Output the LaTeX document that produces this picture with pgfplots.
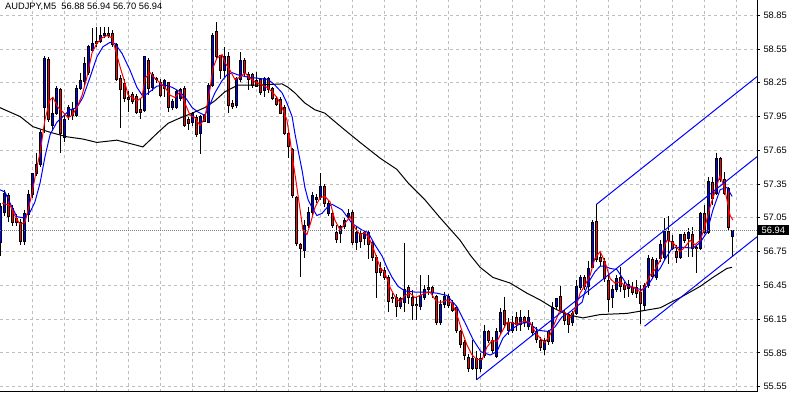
\documentclass[border=0pt]{standalone}
\usepackage{fontspec}
\setmainfont{Liberation Sans}
\usepackage{pgfplots}
\pgfplotsset{compat=1.18}
\usepackage{pgfplotstable}
\definecolor{mtblue}{RGB}{0,0,255}
\definecolor{mtred}{RGB}{255,0,0}
\definecolor{mtgrid}{RGB}{190,190,190}
\newcommand{\lbl}{\fontsize{9.3}{10}\selectfont}

\pgfplotstableread{
k o h l c
0 56.83 57.18 56.71 57.15
1 57.10 57.30 57.07 57.27
2 57.25 57.27 57.01 57.06
3 57.13 57.16 56.98 57.01
4 57.04 57.08 56.98 57.01
5 57.01 57.04 56.81 56.84
6 56.84 57.12 56.81 57.09
7 57.08 57.30 57.01 57.26
8 57.26 57.45 57.23 57.44
9 57.44 57.63 57.42 57.52
10 57.52 57.83 57.50 57.81
11 58.03 58.49 57.80 58.47
12 58.46 58.48 57.90 57.92
13 57.87 58.12 57.83 57.98
14 57.98 58.22 57.96 58.20
15 58.19 58.20 57.63 57.80
16 57.76 57.98 57.72 57.92
17 57.95 58.05 57.92 58.03
18 58.01 58.08 57.92 57.96
19 57.96 58.23 57.95 58.20
20 58.20 58.34 58.19 58.27
21 58.26 58.48 58.23 58.42
22 58.34 58.59 58.32 58.57
23 58.54 58.74 58.52 58.60
24 58.62 58.75 58.57 58.60
25 58.62 58.75 58.60 58.67
26 58.67 58.75 58.65 58.69
27 58.69 58.75 58.65 58.67
28 58.69 58.72 58.57 58.59
29 58.59 58.60 58.27 58.28
30 58.29 58.32 57.85 58.19
31 58.24 58.28 58.08 58.11
32 58.12 58.18 57.99 58.10
33 58.15 58.17 58.06 58.08
34 58.13 58.15 57.97 57.99
35 58.01 58.11 57.93 57.99
36 58.00 58.49 57.99 58.48
37 58.45 58.47 58.14 58.20
38 58.21 58.35 58.18 58.32
39 58.29 58.30 58.25 58.28
40 58.25 58.28 58.12 58.14
41 58.20 58.28 58.12 58.27
42 58.25 58.26 57.99 58.03
43 58.03 58.11 58.01 58.08
44 58.03 58.19 58.02 58.17
45 58.11 58.20 58.09 58.19
46 58.20 58.22 57.86 57.87
47 57.92 57.95 57.83 57.89
48 57.90 57.99 57.87 57.98
49 57.94 57.96 57.77 57.79
50 57.80 57.96 57.62 57.95
51 57.96 57.97 57.90 57.91
52 57.90 58.25 57.89 58.23
53 58.23 58.69 58.21 58.67
54 58.71 58.79 58.47 58.48
55 58.49 58.50 58.28 58.36
56 58.36 58.57 58.29 58.48
57 58.48 58.52 57.98 58.05
58 58.07 58.10 58.02 58.04
59 58.05 58.30 58.03 58.29
60 58.28 58.52 58.26 58.45
61 58.45 58.47 58.31 58.34
62 58.32 58.35 58.19 58.28
63 58.32 58.34 58.20 58.23
64 58.27 58.35 58.21 58.22
65 58.28 58.29 58.14 58.16
66 58.18 58.30 58.12 58.29
67 58.29 58.30 58.16 58.19
68 58.20 58.21 58.10 58.11
69 58.11 58.13 58.04 58.06
70 58.10 58.12 57.97 57.98
71 58.03 58.05 57.79 57.80
72 57.80 57.81 57.58 57.68
73 57.66 57.67 57.23 57.25
74 57.23 57.24 56.80 56.82
75 56.81 56.83 56.52 56.78
76 56.76 57.03 56.69 56.98
77 56.98 57.15 56.96 57.10
78 57.10 57.28 57.06 57.25
79 57.21 57.26 57.18 57.23
80 57.23 57.45 57.21 57.33
81 57.33 57.35 57.15 57.18
82 57.09 57.21 57.07 57.18
83 57.09 57.11 56.96 56.98
84 56.92 56.99 56.83 56.86
85 56.91 56.99 56.83 56.97
86 56.97 57.05 56.95 57.03
87 57.06 57.13 57.04 57.09
88 57.10 57.12 56.81 56.83
89 56.83 56.97 56.76 56.92
90 56.91 56.93 56.78 56.84
91 56.87 56.94 56.81 56.92
92 56.92 56.94 56.68 56.81
93 56.83 56.85 56.67 56.70
94 56.70 56.72 56.34 56.56
95 56.60 56.66 56.53 56.56
96 56.58 56.61 56.50 56.52
97 56.52 56.54 56.21 56.31
98 56.34 56.38 56.29 56.33
99 56.34 56.37 56.17 56.26
100 56.26 56.35 56.24 56.33
101 56.30 56.83 56.21 56.41
102 56.43 56.45 56.28 56.34
103 56.34 56.41 56.14 56.27
104 56.28 56.35 56.14 56.27
105 56.26 56.54 56.23 56.36
106 56.34 56.45 56.32 56.41
107 56.43 56.54 56.36 56.41
108 56.43 56.44 56.34 56.39
109 56.35 56.36 56.10 56.12
110 56.12 56.32 56.10 56.28
111 56.28 56.39 56.25 56.35
112 56.35 56.37 56.25 56.27
113 56.29 56.32 56.21 56.23
114 56.25 56.27 56.03 56.05
115 56.04 56.05 55.89 55.92
116 55.94 55.96 55.79 55.83
117 55.81 55.84 55.68 55.71
118 55.71 55.96 55.70 55.80
119 55.80 55.87 55.61 55.71
120 55.71 55.85 55.68 55.80
121 55.83 56.10 55.80 56.04
122 56.04 56.05 55.94 55.96
123 55.96 55.99 55.85 55.87
124 55.82 56.07 55.80 56.04
125 56.04 56.25 56.01 56.21
126 56.23 56.35 56.07 56.10
127 56.12 56.16 56.01 56.05
128 56.05 56.18 56.03 56.12
129 56.16 56.21 56.04 56.10
130 56.10 56.23 56.04 56.16
131 56.16 56.18 56.08 56.12
132 56.08 56.23 56.05 56.16
133 56.08 56.12 56.00 56.03
134 56.04 56.08 55.94 55.97
135 55.96 55.99 55.87 55.90
136 55.88 55.98 55.83 55.96
137 56.04 56.05 55.92 55.95
138 55.95 56.30 55.93 56.25
139 56.26 56.34 56.24 56.33
140 56.35 56.44 56.21 56.23
141 56.20 56.23 56.10 56.14
142 56.19 56.20 56.03 56.10
143 56.12 56.22 56.09 56.20
144 56.20 56.50 56.19 56.44
145 56.43 56.54 56.41 56.52
146 56.52 56.54 56.41 56.44
147 56.44 56.67 56.36 56.60
148 56.61 57.03 56.60 57.01
149 57.02 57.17 56.66 56.68
150 56.70 56.75 56.62 56.66
151 56.66 56.69 56.48 56.51
152 56.49 56.54 56.21 56.32
153 56.34 56.45 56.25 56.41
154 56.41 56.54 56.39 56.51
155 56.52 56.61 56.39 56.44
156 56.45 56.48 56.34 56.41
157 56.42 56.50 56.35 56.46
158 56.43 56.48 56.36 56.39
159 56.43 56.50 56.34 56.38
160 56.39 56.45 56.11 56.29
161 56.27 56.47 56.23 56.45
162 56.45 56.72 56.43 56.69
163 56.68 56.70 56.51 56.53
164 56.52 56.69 56.50 56.67
165 56.69 56.85 56.66 56.81
166 56.70 57.05 56.67 56.93
167 56.93 57.07 56.64 56.85
168 56.84 56.90 56.76 56.78
169 56.75 56.81 56.65 56.70
170 56.70 56.91 56.68 56.90
171 56.90 56.92 56.83 56.85
172 56.87 56.96 56.70 56.92
173 56.90 56.97 56.70 56.78
174 56.79 56.80 56.56 56.78
175 56.78 57.10 56.76 57.09
176 57.09 57.16 56.91 56.92
177 56.92 57.41 56.91 57.37
178 57.36 57.41 57.16 57.22
179 57.27 57.63 57.25 57.58
180 57.58 57.59 57.37 57.39
181 57.39 57.46 57.25 57.27
182 57.31 57.32 56.94 56.96
183 56.88 56.94 56.70 56.94
}\candles

\pgfplotstableread{
k p
-0.2 58.03
4.9 57.95
8.1 57.86
12.4 57.81
16.6 57.77
20.6 57.75
24.1 57.72
29.1 57.74
32.4 57.71
35.6 57.68
39.4 57.81
41.9 57.89
44.4 57.93
47.9 57.98
51.1 58.03
53.6 58.09
56.1 58.17
59.4 58.23
64.4 58.23
70.4 58.24
71.9 58.21
73.6 58.16
76.1 58.07
78.6 58.01
81.1 57.98
82.4 57.94
86.1 57.83
89.9 57.72
94.9 57.58
99.1 57.48
101.9 57.36
106.1 57.21
109.9 57.05
114.9 56.85
117.4 56.72
119.9 56.61
123.1 56.52
127.4 56.47
131.6 56.38
134.9 56.32
138.1 56.25
141.6 56.19
145.6 56.16
149.9 56.19
156.6 56.20
161.6 56.23
164.9 56.25
169.9 56.34
174.9 56.44
178.1 56.52
181.6 56.60
182.9 56.61
}\maslow

\pgfplotstableread{
k p
-0.2 57.30
1.1 57.28
2.4 57.18
4.1 57.06
5.6 57.05
7.4 57.10
8.6 57.19
9.9 57.36
11.1 57.59
12.4 57.79
14.1 57.90
15.6 57.95
17.4 58.01
19.1 58.03
20.6 58.12
22.4 58.30
24.1 58.48
25.6 58.57
27.4 58.61
28.6 58.60
30.4 58.51
32.4 58.36
34.1 58.21
35.4 58.14
36.6 58.15
39.1 58.22
41.1 58.23
42.9 58.21
44.9 58.17
46.6 58.10
47.9 58.03
49.4 57.99
51.1 57.96
52.4 58.06
53.6 58.16
55.4 58.27
56.6 58.32
57.9 58.34
59.4 58.32
61.9 58.30
64.4 58.29
66.9 58.28
68.6 58.23
70.4 58.16
71.6 58.07
72.9 57.95
73.6 57.80
74.4 57.65
75.4 57.47
76.1 57.32
76.9 57.21
77.9 57.14
79.1 57.07
80.4 57.09
81.6 57.14
82.9 57.17
85.4 57.12
87.9 57.00
90.4 56.94
91.9 56.92
93.6 56.81
95.4 56.71
96.6 56.61
97.9 56.52
99.4 56.44
101.1 56.40
103.6 56.39
106.6 56.39
109.1 56.38
111.6 56.36
114.1 56.26
116.1 56.12
118.1 55.97
120.1 55.86
122.4 55.83
124.1 55.86
125.6 55.98
127.4 56.05
129.9 56.11
131.9 56.12
134.4 56.05
136.9 56.04
138.6 56.08
140.4 56.17
141.9 56.20
143.6 56.25
145.4 56.30
146.1 56.39
147.4 56.50
148.6 56.57
149.9 56.62
151.1 56.62
152.4 56.60
154.1 56.59
155.6 56.51
156.9 56.44
159.1 56.42
160.6 56.41
161.9 56.45
163.1 56.52
164.9 56.60
166.1 56.68
167.9 56.78
169.9 56.79
173.1 56.78
174.9 56.83
176.6 56.92
178.1 57.12
179.9 57.30
181.6 57.32
182.9 57.24
}\mamid

\pgfplotstableread{
k p
0.4 57.18
2.4 57.16
3.6 57.07
4.9 56.99
6.1 57.01
6.9 57.12
7.9 57.27
9.1 57.50
9.9 57.63
11.1 57.92
12.4 58.10
13.1 58.12
14.4 58.03
15.6 57.99
16.9 57.94
17.9 57.96
19.1 58.03
20.4 58.14
21.6 58.30
22.9 58.52
24.1 58.60
25.4 58.65
26.6 58.67
27.9 58.65
28.6 58.56
29.9 58.39
31.1 58.25
31.9 58.14
32.9 58.12
34.1 58.09
35.4 58.12
36.1 58.29
37.4 58.34
38.6 58.29
39.9 58.25
41.1 58.21
42.4 58.14
43.6 58.12
44.9 58.17
46.1 58.07
47.4 57.96
48.6 57.94
49.9 57.87
51.1 57.94
52.4 58.20
53.1 58.38
54.1 58.47
55.4 58.50
56.1 58.43
57.4 58.36
58.6 58.28
59.9 58.30
61.1 58.34
62.4 58.29
63.6 58.26
65.4 58.23
66.6 58.21
67.9 58.17
69.1 58.12
70.4 58.03
71.6 57.92
72.4 57.74
73.1 57.56
74.1 57.32
74.9 57.12
75.6 56.94
76.6 56.90
77.4 56.99
78.6 57.14
79.9 57.23
81.1 57.24
82.4 57.19
83.6 57.03
84.9 56.94
86.1 57.00
87.4 57.06
88.6 56.96
89.9 56.90
91.1 56.92
92.4 56.85
93.6 56.74
94.9 56.61
96.1 56.56
97.4 56.43
98.6 56.35
99.9 56.30
101.1 56.36
102.4 56.38
103.6 56.34
104.9 56.36
106.1 56.38
107.4 56.39
109.1 56.30
110.4 56.30
111.6 56.32
112.9 56.29
114.1 56.19
115.4 56.04
116.6 55.92
117.9 55.83
119.1 55.79
120.4 55.79
121.6 55.90
122.9 55.96
124.1 55.95
125.4 56.04
126.6 56.12
127.9 56.12
129.1 56.10
129.9 56.12
131.1 56.13
132.4 56.12
133.6 56.04
134.9 55.98
136.1 55.94
137.4 56.01
138.6 56.12
139.9 56.23
141.1 56.21
142.4 56.16
143.6 56.23
144.9 56.38
146.1 56.45
147.4 56.54
148.6 56.69
149.9 56.75
151.1 56.66
152.4 56.51
153.6 56.47
154.9 56.48
156.1 56.45
157.4 56.44
158.6 56.43
159.9 56.39
161.1 56.44
162.4 56.54
163.6 56.59
164.9 56.67
166.1 56.81
166.6 56.85
168.1 56.83
169.9 56.75
171.1 56.79
172.4 56.85
173.6 56.81
174.9 56.85
176.1 56.97
177.4 57.15
178.6 57.28
179.9 57.43
181.1 57.30
182.4 57.07
183.1 57.03
}\mafast

\begin{document}
\begin{tikzpicture}
\begin{axis}[
  scale only axis, width=757pt, height=392pt,
  xmin=-0.125, xmax=189.125, ymin=55.5016, ymax=58.986,
  axis x line*=bottom, axis y line*=right,
  axis line style={black, line width=1pt},
  clip mode=individual,
  xtick={7.875,15.875,...,183.875}, xticklabels={},
  x tick style={draw=none},
  ytick={55.55,55.85,56.15,56.45,56.75,57.05,57.35,57.65,57.95,58.25,58.55,58.85},
  y tick style={black, line width=1pt},
  tick align=outside, major tick length=3pt,
  grid=major,
  major grid style={mtgrid, line width=0.9pt, dash pattern=on 3pt off 3pt},
  /pgf/number format/assume math mode=true,
  yticklabel style={font=\lbl, /pgf/number format/.cd, fixed, fixed zerofill, precision=2},
]
% wicks
\addplot[black, line width=1pt, mark=none,
  quiver={u=0, v=\thisrow{l}-\thisrow{h}}]
  table[x=k, y=h] {\candles};
% body outlines
\addplot[black, line width=3.2pt, mark=none,
  quiver={u=0, v={abs(\thisrow{c}-\thisrow{o})+0.009}}]
  table[x=k, y expr={min(\thisrow{o},\thisrow{c})-0.0045}] {\candles};
% bull bodies
\addplot[mtblue, line width=1.5pt, mark=none,
  restrict expr to domain={\thisrow{c}-\thisrow{o}}{0.0001:10},
  quiver={u=0, v={max(\thisrow{c}-\thisrow{o}-0.009,0)}}]
  table[x=k, y expr={\thisrow{o}+0.0045}] {\candles};
% bear bodies
\addplot[mtred, line width=1.5pt, mark=none,
  restrict expr to domain={\thisrow{o}-\thisrow{c}}{0.0001:10},
  quiver={u=0, v={max(\thisrow{o}-\thisrow{c}-0.009,0)}}]
  table[x=k, y expr={\thisrow{c}+0.0045}] {\candles};
% moving averages
\addplot[black, line width=1pt, mark=none] table[x=k, y=p] {\maslow};
\addplot[mtblue, line width=1pt, mark=none] table[x=k, y=p] {\mamid};
\addplot[mtred, line width=1pt, mark=none] table[x=k, y=p] {\mafast};
% equidistant channel
\addplot[mtblue, line width=1pt, mark=none] coordinates {(119,55.61) (189.125,57.593)};
\addplot[mtblue, line width=1pt, mark=none] coordinates {(149,57.17) (189.125,58.305)};
\addplot[mtblue, line width=1pt, mark=none] coordinates {(161,56.086) (189.125,56.881)};
% bid line
\addplot[gray, line width=0.8pt, dash pattern=on 1pt off 1pt, mark=none] coordinates {(-0.125,56.94) (189.125,56.94)};
\node[anchor=north west, inner sep=0pt, font=\lbl] at (rel axis cs:0,1) [xshift=5pt, yshift=-3pt] {AUDJPY,M5\ \ 56.88 56.94 56.70 56.94};
\node[anchor=west, fill=black, text=white, inner xsep=4pt, inner ysep=2pt, font=\lbl] at (axis cs:189.125,56.94) [xshift=0.5pt] {56.94};
\end{axis}
\pgfresetboundingbox
\path ([yshift=-3pt]current axis.south west) rectangle ([xshift=40pt]current axis.north east);
\end{tikzpicture}
\end{document}
